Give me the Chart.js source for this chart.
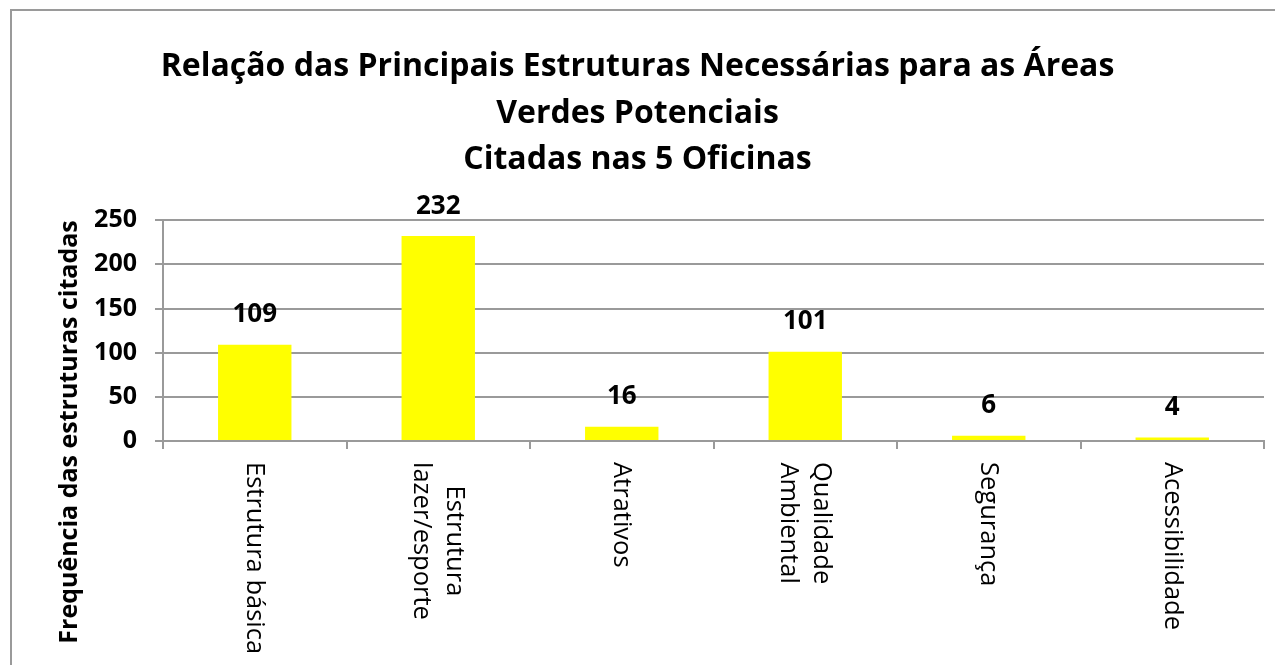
<!DOCTYPE html>
<html>
<head>
<meta charset="utf-8">
<title>Estruturas necessárias - áreas verdes</title>
<script src="https://cdn.jsdelivr.net/npm/chart.js@4.4.1/dist/chart.umd.min.js"></script>
<style>
    html, body { margin: 0; padding: 0; background: #fff; }
    #wrap { position: relative; width: 1275px; height: 665px; }
</style>
</head>
<body>
<div id="wrap">
    <canvas id="barChart" width="1275" height="665"></canvas>
</div>
<script>
var categorias = [
    ['Estrutura básica'],
    ['Estrutura', 'lazer/esporte'],
    ['Atrativos'],
    ['Qualidade', 'Ambiental'],
    ['Segurança'],
    ['Acessibilidade']
];
var frequencias = [109, 232, 16, 101, 6, 4];
var tituloLinhas = [
    'Relação das Principais Estruturas Necessárias para as Áreas',
    'Verdes Potenciais',
    'Citadas nas 5 Oficinas'
];
var tituloEixoY = 'Frequência das estruturas citadas';
var escalaY = { min: 0, max: 250, passo: 50 };

var fonte = "'Open Sans', sans-serif";
Chart.defaults.font.family = fonte;
Chart.defaults.color = '#000';

// moldura cinza em volta do gráfico
var moldura = {
    id: 'moldura',
    beforeDraw: function (chart) {
        var ctx = chart.ctx;
        ctx.save();
        ctx.fillStyle = '#fff';
        ctx.fillRect(0, 0, chart.width, chart.height);
        ctx.strokeStyle = '#9a9a9a';
        ctx.lineWidth = 2;
        ctx.beginPath();
        ctx.moveTo(11, chart.height);
        ctx.lineTo(11, 10);
        ctx.lineTo(chart.width, 10);
        ctx.stroke();
        ctx.restore();
    }
};

// valores em cima das barras
var rotulosValor = {
    id: 'rotulosValor',
    afterDatasetsDraw: function (chart) {
        var ctx = chart.ctx;
        var meta = chart.getDatasetMeta(0);
        ctx.save();
        ctx.font = 'bold 26px ' + fonte;
        ctx.fillStyle = '#000';
        ctx.textAlign = 'center';
        ctx.textBaseline = 'middle';
        meta.data.forEach(function (bar, i) {
            ctx.fillText(String(frequencias[i]), bar.x, bar.y - 30);
        });
        ctx.restore();
    }
};

// nomes das categorias girados 90 graus (lidos de cima para baixo)
var rotulosCategoria = {
    id: 'rotulosCategoria',
    afterDraw: function (chart) {
        var ctx = chart.ctx;
        var eixoX = chart.scales.x;
        var alturaLinha = 33;
        ctx.save();
        ctx.font = '25.5px ' + fonte;
        ctx.fillStyle = '#000';
        ctx.textAlign = 'center';
        ctx.textBaseline = 'middle';
        categorias.forEach(function (linhas, i) {
            var cx = eixoX.getPixelForValue(i);
            var larg = 0;
            linhas.forEach(function (t) { larg = Math.max(larg, ctx.measureText(t).width); });
            ctx.save();
            ctx.translate(cx, eixoX.top + 21);
            ctx.rotate(Math.PI / 2);
            linhas.forEach(function (t, j) {
                ctx.fillText(t, larg / 2, (j - (linhas.length - 1) / 2) * alturaLinha);
            });
            ctx.restore();
        });
        ctx.restore();
    }
};

var ctx = document.getElementById('barChart').getContext('2d');
var barChart = new Chart(ctx, {
    type: 'bar',
    data: {
        labels: categorias.map(function (l) { return l.join(' '); }),
        datasets: [{
            label: tituloEixoY,
            data: frequencias,
            backgroundColor: '#ffff00',
            borderWidth: 0,
            barPercentage: 0.4,
            categoryPercentage: 1.0
        }]
    },
    options: {
        responsive: false,
        animation: false,
        layout: { padding: { left: 11, right: 11, top: 0, bottom: 0 } },
        plugins: {
            legend: { display: false },
            tooltip: { enabled: false },
            title: {
                display: true,
                text: tituloLinhas,
                color: '#000',
                font: { size: 32, weight: 'bold', lineHeight: 1.45 },
                padding: { top: 44, bottom: 37 }
            }
        },
        scales: {
            x: {
                offset: true,
                grid: {
                    offset: true,
                    drawOnChartArea: false,
                    drawTicks: true,
                    tickLength: 8,
                    color: '#9a9a9a',
                    lineWidth: 2
                },
                border: { color: '#9a9a9a', width: 2 },
                ticks: { display: false },
                afterFit: function (scale) { scale.height = 224; }
            },
            y: {
                min: escalaY.min,
                max: escalaY.max,
                ticks: {
                    stepSize: escalaY.passo,
                    padding: 18,
                    font: { size: 25, weight: 'bold' }
                },
                grid: {
                    color: '#9a9a9a',
                    lineWidth: 2,
                    tickLength: 8
                },
                border: { color: '#9a9a9a', width: 2 },
                title: {
                    display: true,
                    text: tituloEixoY,
                    align: 'end',
                    font: { size: 25, weight: 'bold', lineHeight: 1.2 },
                    padding: { top: 44, bottom: 0 }
                },
                afterFit: function (scale) { scale.width = 152; }
            }
        }
    },
    plugins: [moldura, rotulosValor, rotulosCategoria]
});
</script>
</body>
</html>
